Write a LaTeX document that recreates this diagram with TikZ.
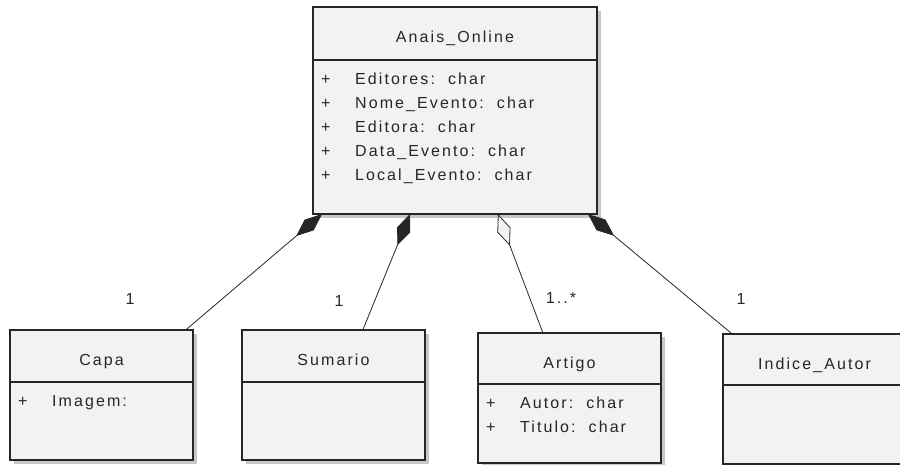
\documentclass[tikz,border=0pt]{standalone}
\usepackage{fontspec}
\newfontfamily\umlfont[LetterSpace=13]{Liberation Sans}
\usetikzlibrary{calc}
\usetikzlibrary{positioning}
\usetikzlibrary{shadows}
\usetikzlibrary{arrows.meta}
\tikzstyle{classbox} = [draw=black!85, line width=1.2pt, fill=black!5, inner sep=0pt, outer sep=0pt, minimum width=183pt, text=black!85, font=\umlfont\fontsize{16}{24}\selectfont, drop shadow={shadow xshift=4pt, shadow yshift=-4pt, fill=black!22, opacity=1}]
\tikzstyle{classhead} = [classbox, minimum height=52pt, text height=19pt, text depth=0pt]
\tikzstyle{classbody} = [classbox, minimum height=78pt]
\tikzstyle{attrtext} = [inner sep=0pt, anchor=north west, align=left, text=black!85, font=\umlfont\fontsize{16}{24}\selectfont]
\tikzstyle{mult} = [inner sep=0pt, text=black!85, font=\umlfont\fontsize{16}{18}\selectfont]
\tikzstyle{link} = [draw=black!85, line width=0.8pt]
\tikzstyle{composite} = [{Diamond[length=34pt, width=14pt]}-]
\tikzstyle{shared} = [{Diamond[length=34pt, width=14pt, fill=black!5]}-]
\newcommand{\attr}[1]{\makebox[34pt][l]{+}#1}

\begin{document}
\begin{tikzpicture}[x=1pt, y=-1pt]
  \clip (0,0) rectangle (900,465);
  \node[classhead, minimum width=284pt, minimum height=53pt] (anais) at (455,33.5) {Anais\_Online};
  \node[classbody, minimum width=284pt, minimum height=154pt, below=0pt of anais] (anaisbody) {};
  \node[attrtext] (anaisattr) at ([xshift=8pt, yshift=-13pt]anaisbody.north west)
    {\attr{Editores:\ \ char}\\ \attr{Nome\_Evento:\ \ char}\\ \attr{Editora:\ \ char}\\ \attr{Data\_Evento:\ \ char}\\ \attr{Local\_Evento:\ \ char}};

  \node[classhead] (capa) at (101.5,356) {Capa};
  \node[classbody, below=0pt of capa] (capabody) {};
  \node[attrtext] (capaattr) at ([xshift=8pt, yshift=-13pt]capabody.north west) {\attr{Imagem:}};

  \node[classhead] (sumario) at (333.5,356) {Sumario};
  \node[classbody, below=0pt of sumario] (sumariobody) {};

  \node[classhead, minimum height=51pt] (artigo) at (569.5,358.5) {Artigo};
  \node[classbody, minimum height=79pt, below=0pt of artigo] (artigobody) {};
  \node[attrtext] (artigoattr) at ([xshift=8pt, yshift=-13pt]artigobody.north west)
    {\attr{Autor:\ \ char}\\ \attr{Titulo:\ \ char}};

  \node[classhead, minimum height=51pt] (indice) at (814.5,359.5) {Indice\_Autor};
  \node[classbody, minimum height=79pt, below=0pt of indice] (indicebody) {};

  \coordinate (acapa) at ($(anaisbody.south west)!0.032!(anaisbody.south east)$);
  \coordinate (asumario) at ($(anaisbody.south west)!0.342!(anaisbody.south east)$);
  \coordinate (aartigo) at ($(anaisbody.south west)!0.651!(anaisbody.south east)$);
  \coordinate (aindice) at ($(anaisbody.south west)!0.968!(anaisbody.south east)$);

  \draw[link, composite] (acapa) -- ($(capa.north west)!0.96!(capa.north east)$);
  \draw[link, composite] (asumario) -- ($(sumario.north west)!0.66!(sumario.north east)$);
  \draw[link, shared] (aartigo) -- ($(artigo.north west)!0.355!(artigo.north east)$);
  \draw[link, composite] (aindice) -- ($(indice.north west)!0.05!(indice.north east)$);

  \node[mult] (mcapa) at (130,299) {1};
  \node[mult] (msumario) at (339,301) {1};
  \node[mult] (martigo) at (561,298) {1..*};
  \node[mult] (mindice) at (741,299) {1};
\end{tikzpicture}
\end{document}
